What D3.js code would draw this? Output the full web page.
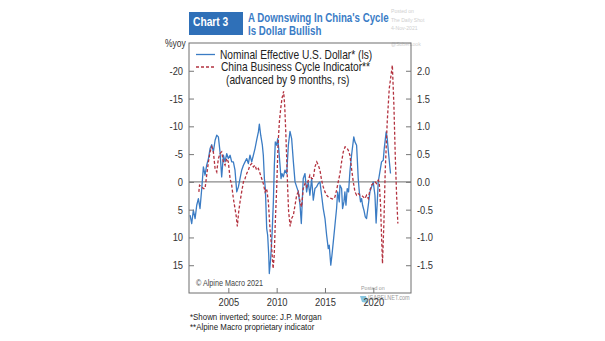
<!DOCTYPE html>
<html>
<head>
<meta charset="utf-8">
<script src="https://cdn.jsdelivr.net/npm/d3@7"></script>
<style>
  html, body { margin: 0; padding: 0; background: #fff; }
  svg { display: block; }
  text { font-family: "Liberation Sans", Arial, sans-serif; }
</style>
</head>
<body>
<div id="chart"></div>
<script>
// Nominal effective U.S. dollar, % yoy (shown inverted, left scale)
const usdYears = [
  2001.04, 2001.21, 2001.38, 2001.56, 2001.73, 2001.90, 2002.07, 2002.25, 2002.42, 2002.59,
  2002.76, 2002.94, 2003.11, 2003.28, 2003.45, 2003.63, 2003.80, 2003.97, 2004.14, 2004.31,
  2004.49, 2004.66, 2004.83, 2005.00, 2005.18, 2005.35, 2005.52, 2005.69, 2005.87, 2006.04,
  2006.21, 2006.38, 2006.56, 2006.73, 2006.90, 2007.07, 2007.24, 2007.42, 2007.59, 2007.76,
  2007.93, 2008.11, 2008.21, 2008.35, 2008.52, 2008.62, 2008.73, 2008.83, 2008.97, 2009.07,
  2009.18, 2009.24, 2009.38, 2009.52, 2009.66, 2009.76, 2009.86, 2010.00, 2010.11, 2010.21,
  2010.35, 2010.45, 2010.55, 2010.69, 2010.86, 2011.04, 2011.21, 2011.38, 2011.55, 2011.73,
  2011.90, 2012.07, 2012.24, 2012.42, 2012.55, 2012.75, 2012.93, 2013.10, 2013.27, 2013.44,
  2013.62, 2013.79, 2013.96, 2014.13, 2014.31, 2014.48, 2014.65, 2014.82, 2015.00, 2015.17,
  2015.34, 2015.44, 2015.60, 2015.72, 2015.86, 2016.03, 2016.20, 2016.31, 2016.48, 2016.55,
  2016.72, 2016.82, 2016.96, 2017.06, 2017.17, 2017.30, 2017.44, 2017.58, 2017.75, 2017.98,
  2018.10, 2018.27, 2018.34, 2018.44, 2018.55, 2018.68, 2018.79, 2018.89, 2019.03, 2019.17,
  2019.30, 2019.48, 2019.65, 2019.82, 2019.99, 2020.17, 2020.29, 2020.41, 2020.51, 2020.68,
  2020.85, 2021.03, 2021.13, 2021.33, 2021.44, 2021.58, 2021.78
];
const usdValues = [
  6.0, 7.5, 5.1, 6.6, 4.2, 3.0, 4.8, 1.2, -2.7, -1.2,
  -3.0, -4.2, -6.0, -6.7, -5.4, -7.5, -8.4, -8.1, -5.4, -0.9,
  -4.8, -3.6, -5.1, -4.2, -4.8, -3.6, -3.6, -2.1, 1.8, 0.9,
  -0.6, -2.1, -3.0, -3.6, -4.2, -3.3, -4.8, -3.6, -4.8, -6.0,
  -7.5, -9.0, -10.4, -8.4, -6.6, -4.8, -0.6, 1.2, 8.4, 9.6,
  13.2, 16.5, 13.8, 9.6, 3.6, -3.0, -7.2, -6.6, -7.8, -6.0,
  -3.0, -0.6, -1.5, -0.9, -2.1, -1.5, -6.6, -9.1, -7.8, -3.6,
  0.0, 0.9, 1.8, 4.2, 7.5, -0.6, -1.5, 1.8, 0.0, 2.4,
  -0.6, 3.3, 1.2, 0.9, 0.3, 0.0, 2.4, 4.8, 6.6, 9.6,
  12.0, 11.4, 15.0, 13.2, 10.8, 7.8, 4.8, 1.8, 3.6, 0.6,
  1.2, 4.8, 3.6, 1.8, 4.2, 1.2, 1.8, -1.8, -4.8, -8.1,
  -7.2, -6.6, -4.2, -0.6, 1.8, 3.6, 3.0, 4.2, 5.1, 6.3,
  6.6, 4.2, 1.8, 0.9, 0.0, 2.4, 7.4, 3.6, 0.0, -1.8,
  -3.6, -3.9, -6.0, -9.0, -7.8, -5.1, -1.5
];

// China business cycle indicator, advanced by 9 months (right scale)
const cbciYears = [
  2001.95, 2002.02, 2002.25, 2002.42, 2002.59, 2002.76, 2002.94, 2003.11, 2003.28, 2003.45,
  2003.63, 2003.80, 2003.97, 2004.14, 2004.31, 2004.49, 2004.66, 2004.83, 2005.00, 2005.18,
  2005.35, 2005.52, 2005.69, 2005.82, 2005.93, 2006.07, 2006.21, 2006.38, 2006.56, 2006.73,
  2006.90, 2007.07, 2007.24, 2007.42, 2007.59, 2007.76, 2007.93, 2008.11, 2008.28, 2008.45,
  2008.62, 2008.80, 2008.97, 2009.14, 2009.31, 2009.49, 2009.63, 2009.75, 2009.86, 2010.00,
  2010.14, 2010.28, 2010.42, 2010.55, 2010.72, 2010.83, 2010.93, 2011.04, 2011.14, 2011.24,
  2011.40, 2011.55, 2011.73, 2011.90, 2012.07, 2012.24, 2012.42, 2012.58, 2012.75, 2012.93,
  2013.10, 2013.27, 2013.44, 2013.62, 2013.79, 2013.96, 2014.15, 2014.31, 2014.48, 2014.65,
  2014.82, 2015.00, 2015.17, 2015.34, 2015.51, 2015.68, 2015.86, 2016.03, 2016.20, 2016.37,
  2016.55, 2016.72, 2016.89, 2017.08, 2017.24, 2017.41, 2017.58, 2017.75, 2017.93, 2018.10,
  2018.27, 2018.44, 2018.61, 2018.79, 2018.96, 2019.13, 2019.30, 2019.48, 2019.65, 2019.82,
  2019.99, 2020.17, 2020.34, 2020.51, 2020.61, 2020.75, 2020.86, 2020.95, 2021.10, 2021.23,
  2021.44, 2021.65, 2021.97, 2022.13, 2022.27, 2022.41, 2022.54
];
const cbciValues = [
  -0.18, -0.06, -0.09, -0.12, -0.12, 0.12, 0.36, 0.54, 0.63, 0.54,
  0.24, 0.18, 0.42, 0.51, 0.54, 0.36, 0.30, 0.42, 0.36, 0.06,
  -0.06, -0.30, -0.48, -0.62, -0.80, -0.54, -0.36, -0.18, 0.00, 0.06,
  0.15, 0.21, 0.30, 0.33, 0.27, 0.30, 0.21, 0.24, 0.15, 0.06,
  -0.03, -0.18, -0.12, -0.36, -0.84, -1.20, -1.56, -1.32, -0.72, -0.12,
  0.66, 1.08, 1.32, 1.50, 1.63, 1.38, 0.96, 0.42, -0.12, -0.54,
  -0.80, -0.66, -0.60, -0.42, -0.24, -0.18, -0.36, -0.45, -0.12, -0.03,
  -0.09, 0.03, 0.12, 0.06, 0.06, 0.27, 0.36, 0.30, 0.21, 0.03,
  -0.09, -0.18, -0.24, -0.27, -0.29, -0.30, -0.31, -0.27, -0.15, 0.00,
  0.15, 0.36, 0.54, 0.63, 0.62, 0.57, 0.48, 0.24, 0.00, -0.18,
  -0.24, -0.21, -0.24, -0.24, -0.27, -0.30, -0.24, -0.30, -0.15, -0.06,
  -0.03, 0.00, -0.03, 0.03, 0.00, -0.42, -1.02, -1.47, -0.72, 0.18,
  1.08, 1.68, 2.10, 1.38, 0.48, -0.24, -0.75
];

const leftTicks = [-20, -15, -10, -5, 0, 5, 10, 15];
const rightTicks = [-1.5, -1.0, -0.5, 0.0, 0.5, 1.0, 1.5, 2.0];
const yearTicks = [2005, 2010, 2015, 2020];

const W = 605, H = 341;
const plot = { left: 189, top: 43, right: 411, bottom: 293 };
const SX = 0.85; // condensed type
const blue = "#3b7cc4", red = "#b3323f", titleBlue = "#3a7cc6";

const svg = d3.select("#chart").append("svg").attr("width", W).attr("height", H);

const x = d3.scaleLinear().domain([2000.93, 2023.9]).range([plot.left, plot.right]);
const yL = d3.scaleLinear().domain([20, -25]).range([plot.bottom, plot.top]);
const yR = d3.scaleLinear().domain([-2, 2.5]).range([plot.bottom, plot.top]);

function label(parent, px, py, str, o = {}) {
  return parent.append("text")
    .attr("transform", `translate(${px},${py}) scale(${o.sx ?? SX},1)`)
    .attr("font-size", o.size ?? 11)
    .attr("font-weight", o.weight ?? "normal")
    .attr("fill", o.fill ?? "#222")
    .attr("text-anchor", o.anchor ?? "start")
    .text(str);
}

// Title block
svg.append("rect").attr("x", 189).attr("y", 12).attr("width", 54).attr("height", 23).attr("fill", "#2f70b8");
label(svg, 193, 25.5, "Chart 3", { size: 12.5, weight: "bold", fill: "#fff", sx: 0.82 });
label(svg, 248, 22, "A Downswing In China's Cycle", { size: 12, weight: "bold", fill: titleBlue, sx: 0.81 });
label(svg, 248, 35, "Is Dollar Bullish", { size: 12, weight: "bold", fill: titleBlue, sx: 0.81 });

// Faint attribution stamp, top right
const stamp = svg.append("g");
label(stamp, 391, 13, "Posted on", { size: 6, fill: "#cfcfcf" });
label(stamp, 391, 22, "The Daily Shot", { size: 6, fill: "#cfcfcf" });
label(stamp, 391, 30, "4-Nov-2021", { size: 6, fill: "#cfcfcf" });
label(stamp, 391, 46, "@SoberLook", { size: 6, fill: "#cfcfcf" });

// Zero line
svg.append("line")
  .attr("x1", plot.left).attr("x2", plot.right)
  .attr("y1", yL(0)).attr("y2", yL(0))
  .attr("stroke", "#8a8a8a").attr("stroke-width", 1.2);

// Series
const usd = usdYears.map((t, i) => [t, usdValues[i]]);
const cbci = cbciYears.map((t, i) => [t, cbciValues[i]]);

svg.append("path").datum(usd)
  .attr("fill", "none").attr("stroke", blue).attr("stroke-width", 1.3).attr("stroke-linejoin", "round")
  .attr("d", d3.line().x(d => x(d[0])).y(d => yL(d[1])));

svg.append("path").datum(cbci)
  .attr("fill", "none").attr("stroke", red).attr("stroke-width", 1.3).attr("stroke-dasharray", "3,2")
  .attr("d", d3.line().x(d => x(d[0])).y(d => yR(d[1])));

// Frame
svg.append("rect")
  .attr("x", plot.left).attr("y", plot.top)
  .attr("width", plot.right - plot.left).attr("height", plot.bottom - plot.top)
  .attr("fill", "none").attr("stroke", "#6e6e6e").attr("stroke-width", 1);

function styleAxis(g) {
  g.select(".domain").remove();
  g.selectAll(".tick line").attr("stroke", "#777");
  g.selectAll(".tick text")
    .attr("fill", "#333")
    .attr("font-size", 11)
    .attr("font-family", "Liberation Sans, Arial, sans-serif")
    .attr("transform", `scale(${SX},1)`);
}

svg.append("g").attr("transform", `translate(${plot.left},0)`)
  .call(d3.axisLeft(yL).tickValues(leftTicks).tickSize(-5).tickSizeOuter(0).tickPadding(7)
    .tickFormat(d => String(d)))
  .call(styleAxis);

svg.append("g").attr("transform", `translate(${plot.right},0)`)
  .call(d3.axisRight(yR).tickValues(rightTicks).tickSize(-5).tickSizeOuter(0).tickPadding(7)
    .tickFormat(d => d.toFixed(1)))
  .call(styleAxis);

// Posting mark, bottom right (drawn under the year labels)
label(svg, 361, 290, "Posted on", { size: 6.2, fill: "#9a9a9a" });
svg.append("path").attr("d", "M360,296 L366,296 L368,303 L362,302 Z").attr("fill", "#6ab6d6").attr("opacity", 0.8);
label(svg, 368, 300, "ISABELNET.com", { size: 6.5, fill: "#9a9a9a" });

svg.append("g").attr("transform", `translate(0,${plot.bottom})`)
  .call(d3.axisBottom(x).tickValues(yearTicks).tickSize(-5).tickSizeOuter(0).tickPadding(5)
    .tickFormat(d => String(d)))
  .call(styleAxis);

// Axis unit
label(svg, 165, 46.5, "%yoy", { size: 10, fill: "#333" });

// Legend
svg.append("line").attr("x1", 196).attr("x2", 215).attr("y1", 54.5).attr("y2", 54.5)
  .attr("stroke", blue).attr("stroke-width", 1.3);
label(svg, 220, 58.5, "Nominal Effective U.S. Dollar* (ls)", { size: 12 });
svg.append("line").attr("x1", 196).attr("x2", 215).attr("y1", 67).attr("y2", 67)
  .attr("stroke", red).attr("stroke-width", 1.3).attr("stroke-dasharray", "3,2");
label(svg, 221, 71, "China Business Cycle Indicator**", { size: 12 });
label(svg, 226, 83.5, "(advanced by 9 months, rs)", { size: 12 });

// Copyright
label(svg, 196, 286, "\u00A9 Alpine Macro 2021", { size: 8.5, fill: "#444" });

// Footnotes
label(svg, 190, 319.5, "*Shown inverted; source: J.P. Morgan", { size: 9.3 });
label(svg, 190, 329.5, "**Alpine Macro proprietary indicator", { size: 9.3 });
</script>
</body>
</html>
